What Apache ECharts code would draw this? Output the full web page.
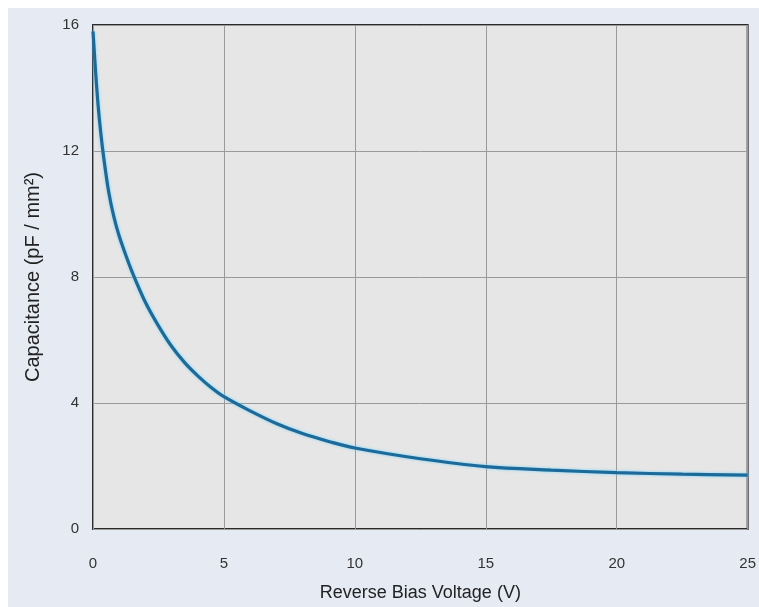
<!DOCTYPE html>
<html>
<head>
<meta charset="utf-8">
<script src="https://cdn.jsdelivr.net/npm/echarts@6/dist/echarts.min.js"></script>
<style>
  html, body { margin: 0; padding: 0; background: #ffffff; }
  #wrap { position: relative; width: 759px; height: 607px; background: #ffffff; overflow: hidden; }
  #bg { position: absolute; left: 8px; top: 8px; right: 0; bottom: 0; background: #e5eaf3; }
  #chart { position: absolute; left: 0; top: 0; width: 759px; height: 607px; }
</style>
</head>
<body>
<div id="wrap"><div id="bg"></div><div id="chart"></div></div>
<script>
// Reverse bias voltage (V)
const voltage = [0, 0.1, 0.2, 0.3, 0.4, 0.6, 0.8, 1.0, 1.25, 1.5, 2.0, 2.5, 3.0, 3.5, 4.0, 4.5, 5.0, 6.0, 7.0, 8.0, 9.0, 10.0, 12.5, 15.0, 17.5, 20.0, 22.5, 25.0];
// Capacitance (pF / mm²)
const capacitance = [15.8, 14.5, 13.4, 12.55, 11.85, 10.7, 9.9, 9.3, 8.7, 8.15, 7.2, 6.45, 5.8, 5.28, 4.86, 4.5, 4.2, 3.75, 3.35, 3.03, 2.78, 2.57, 2.23, 1.98, 1.87, 1.79, 1.74, 1.71];
const xTicks = [0, 5, 10, 15, 20, 25];
const yTicks = [0, 4, 8, 12, 16];

const chart = echarts.init(document.getElementById('chart'), null, { renderer: 'canvas' });
const font = '"Liberation Sans", Arial, Helvetica, sans-serif';
chart.setOption({
  backgroundColor: 'transparent',
  animation: false,
  grid: {
    left: 93, right: 9, top: 25, bottom: 72,
    show: true, backgroundColor: '#e6e6e6',
    borderColor: '#2b2b2b', borderWidth: 2
  },
  xAxis: {
    type: 'value', min: xTicks[0], max: xTicks[xTicks.length - 1], interval: 5,
    name: 'Reverse Bias Voltage (V)', nameLocation: 'middle', nameGap: 55,
    nameTextStyle: { fontFamily: font, fontSize: 18, color: '#222' },
    axisLine: { show: false }, axisTick: { show: false },
    axisLabel: { fontFamily: font, fontSize: 15, color: '#333', margin: 27 },
    splitLine: { show: true, lineStyle: { color: '#9a9a9a', width: 1 } }
  },
  yAxis: {
    type: 'value', min: yTicks[0], max: yTicks[yTicks.length - 1], interval: 4,
    name: 'Capacitance (pF / mm²)', nameLocation: 'middle', nameGap: 50,
    nameTextStyle: { fontFamily: font, fontSize: 20, color: '#222' },
    axisLine: { show: false }, axisTick: { show: false },
    axisLabel: { fontFamily: font, fontSize: 15, color: '#333', margin: 14 },
    splitLine: { show: true, lineStyle: { color: '#9a9a9a', width: 1 } }
  },
  series: [{
    type: 'line',
    data: voltage.map((v, i) => [v, capacitance[i]]),
    smooth: 0.35,
    showSymbol: false,
    lineStyle: { color: '#1c6a9a', width: 3.2, shadowColor: 'rgba(110,210,250,0.9)', shadowBlur: 3 }
  }]
});
</script>
</body>
</html>
